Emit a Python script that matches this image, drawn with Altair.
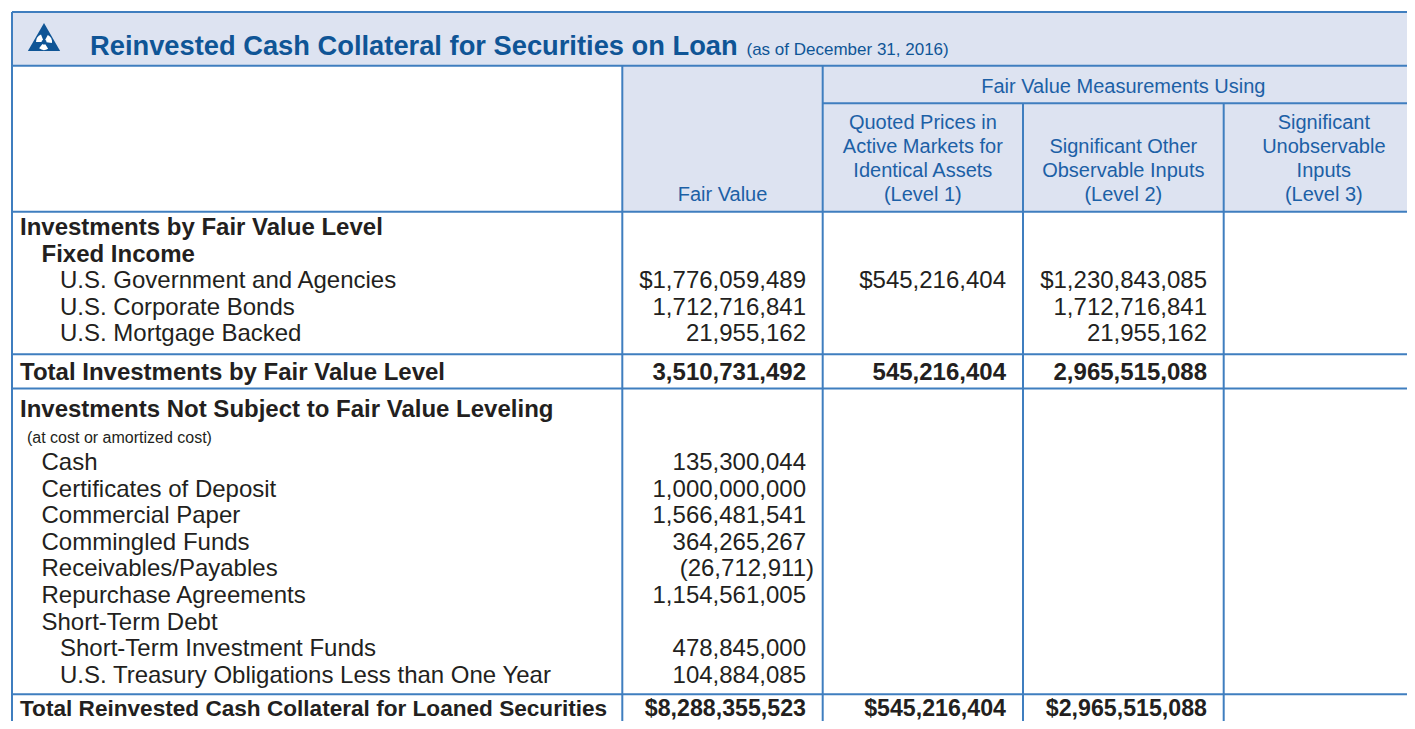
import altair as alt
import pandas as pd

# ---------------- data ----------------
TITLE = "Reinvested Cash Collateral for Securities on Loan"
SUBTITLE = "(as of December 31, 2016)"

HEAD_GROUP = "Fair Value Measurements Using"
HEAD_FV = ["Fair Value"]
HEAD_L1 = ["Quoted Prices in", "Active Markets for", "Identical Assets", "(Level 1)"]
HEAD_L2 = ["Significant Other", "Observable Inputs", "(Level 2)"]
HEAD_L3 = ["Significant", "Unobservable", "Inputs", "(Level 3)"]

sec1_labels = ["Investments by Fair Value Level", "Fixed Income",
               "U.S. Government and Agencies", "U.S. Corporate Bonds", "U.S. Mortgage Backed"]
sec1_indent = [0, 1, 2, 2, 2]
sec1_bold = [True, True, False, False, False]
sec1_fv = ["", "", "$1,776,059,489", "1,712,716,841", "21,955,162"]
sec1_l1 = ["", "", "$545,216,404", "", ""]
sec1_l2 = ["", "", "$1,230,843,085", "1,712,716,841", "21,955,162"]

total1 = ["Total Investments by Fair Value Level", "3,510,731,492", "545,216,404", "2,965,515,088"]

sec2_labels = ["Investments Not Subject to Fair Value Leveling", "(at cost or amortized cost)",
               "Cash", "Certificates of Deposit", "Commercial Paper", "Commingled Funds",
               "Receivables/Payables", "Repurchase Agreements", "Short-Term Debt",
               "Short-Term Investment Funds", "U.S. Treasury Obligations Less than One Year"]
sec2_indent = [0, "s", 1, 1, 1, 1, 1, 1, 1, 2, 2]
sec2_fv = ["", "", "135,300,044", "1,000,000,000", "1,566,481,541", "364,265,267",
           "(26,712,911)", "1,154,561,005", "", "478,845,000", "104,884,085"]

total2 = ["Total Reinvested Cash Collateral for Loaned Securities",
          "$8,288,355,523", "$545,216,404", "$2,965,515,088"]

# ---------------- style / layout ----------------
FONT = "Liberation Sans, Arial, Helvetica, sans-serif"
BORDER = "#3f7ebf"
BAND = "#dde3f1"
TITLE_BLUE = "#0f5596"
HEAD_BLUE = "#1c60a6"
BODY = "#231f20"

W, H = 1399, 713
OFF = 8
COLS = [12, 622.3, 822.7, 1023, 1223.7, 1430]
RIGHT = [806, 1006, 1207]
INDENT = {0: 20, 1: 41.5, 2: 60, "s": 27}
STEP = 26.6

texts = []


def add(t, x, y, size, color, weight, align):
    if t:
        texts.append(dict(t=t, x=x, y=y, s=size, c=color, w=weight, a=align))


add(TITLE, 90, 55, 27.3, TITLE_BLUE, "bold", "left")
add(SUBTITLE, 746.5, 55, 17, TITLE_BLUE, "normal", "left")

# header
add(HEAD_GROUP, (COLS[2] + 1424) / 2, 93.3, 20, HEAD_BLUE, "normal", "center")
hb = 200.5
for lines, cx in [(HEAD_FV, (COLS[1] + COLS[2]) / 2), (HEAD_L1, (COLS[2] + COLS[3]) / 2),
                  (HEAD_L2, (COLS[3] + COLS[4]) / 2), (HEAD_L3, (COLS[4] + 1424) / 2)]:
    n = len(lines)
    for i, ln in enumerate(lines):
        add(ln, cx, hb - (n - 1 - i) * 24, 20, HEAD_BLUE, "normal", "center")


def numx(col, s):
    return RIGHT[col] + (8 if s.endswith(")") else 0)


# section 1
for i, lab in enumerate(sec1_labels):
    y = 235 + i * STEP
    add(lab, INDENT[sec1_indent[i]], y, 24, BODY, "bold" if sec1_bold[i] else "normal", "left")
    for col, arr in enumerate([sec1_fv, sec1_l1, sec1_l2]):
        add(arr[i], numx(col, arr[i]), y, 24, BODY, "normal", "right")

# total 1
add(total1[0], 20, 380, 24, BODY, "bold", "left")
for col in range(3):
    add(total1[col + 1], numx(col, total1[col + 1]), 380, 24, BODY, "bold", "right")

# section 2
for i, lab in enumerate(sec2_labels):
    if i == 0:
        y, size, wt = 416.7, 24, "bold"
    elif i == 1:
        y, size, wt = 443.3, 16, "normal"
    else:
        y, size, wt = 470 + (i - 2) * STEP, 24, "normal"
    add(lab, INDENT[sec2_indent[i]], y, size, BODY, wt, "left")
    add(sec2_fv[i], numx(0, sec2_fv[i]), y, 24, BODY, "normal", "right")

# total 2 (the view ends at page y=721, so keep the last row, commas included, inside it)
LAST = 715.5
add(total2[0], 20, LAST, 22.6, BODY, "bold", "left")
for col in range(3):
    add(total2[col + 1], numx(col, total2[col + 1]), LAST, 23.2, BODY, "bold", "right")

tdf = pd.DataFrame(texts)

# grid lines
segs = []
for yy, xa in [(12, 12), (65.7, 12), (103.3, COLS[2]), (211.7, 12), (354.3, 12), (388.5, 12), (694.3, 12)]:
    segs.append(dict(x=xa, x2=1430, y=yy, y2=yy))
for xx, ya in [(12, 12), (COLS[1], 65.7), (COLS[2], 65.7), (COLS[3], 103.3), (COLS[4], 103.3)]:
    segs.append(dict(x=xx, x2=xx, y=ya, y2=740))
ldf = pd.DataFrame(segs)

rects = pd.DataFrame([
    dict(x=12, x2=1430, y=12, y2=65.7),
    dict(x=COLS[1], x2=1430, y=65.7, y2=211.7),
])

xs = alt.Scale(domain=[OFF, OFF + W], nice=False, zero=False)
ys = alt.Scale(domain=[OFF, OFF + H], nice=False, zero=False, reverse=True)
X = lambda f: alt.X(f"{f}:Q", scale=xs, axis=None)
Y = lambda f: alt.Y(f"{f}:Q", scale=ys, axis=None)

bg = alt.Chart(rects).mark_rect(color=BAND, clip=True).encode(
    x=X("x"), x2="x2", y=Y("y"), y2="y2")

lines = alt.Chart(ldf).mark_rule(color=BORDER, strokeWidth=2, clip=True).encode(
    x=X("x"), x2="x2", y=Y("y"), y2="y2")

logo_df = pd.DataFrame([dict(x=44, y=37)])
swirl_df = pd.DataFrame([dict(x=44, y=42)])
logo = alt.Chart(logo_df).mark_point(shape="triangle-up", filled=True, size=1040,
                                     color=TITLE_BLUE, opacity=1).encode(x=X("x"), y=Y("y"))
swirls = []
for t0 in [0.5, 2.6, 4.7]:
    swirls.append(alt.Chart(swirl_df).mark_arc(color="white", radius=8, radius2=2.5,
                                               theta=t0, theta2=t0 + 1.2).encode(
        x=X("x"), y=Y("y")))

layers = [bg, lines, logo] + swirls
for wt in ["normal", "bold"]:
    for al in ["left", "right", "center"]:
        sub = tdf[(tdf.w == wt) & (tdf.a == al)]
        if len(sub) == 0:
            continue
        layers.append(
            alt.Chart(sub).mark_text(font=FONT, fontWeight=wt, align=al, baseline="alphabetic").encode(
                x=X("x"), y=Y("y"), text="t:N",
                size=alt.Size("s:Q", scale=None, legend=None),
                color=alt.Color("c:N", scale=None, legend=None)))

chart = alt.layer(*layers).properties(
    width=W, height=H, padding=0, autosize="none"
).configure_view(stroke=None)

chart.save("out.html", embed_options={"renderer": "svg", "actions": False})
